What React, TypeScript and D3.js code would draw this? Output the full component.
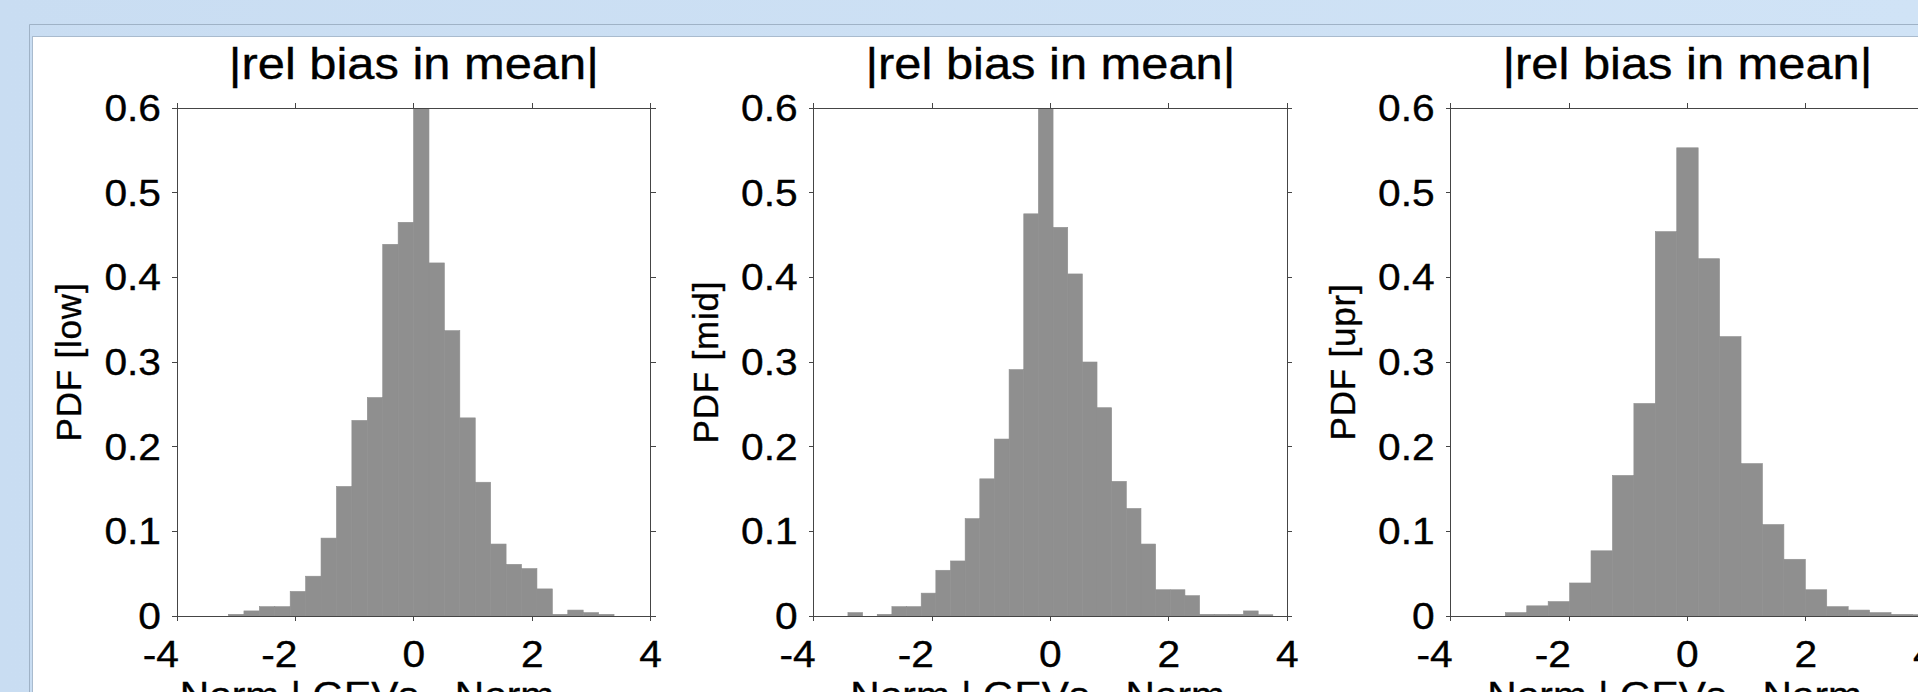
import React from 'react';
import * as d3 from 'd3';

// ---------- data ----------
const panelKeys = ['low', 'mid', 'upr'];
const titleText = '|rel bias in mean|';
const xLabelText = 'Norm | GEVs - Norm';
const xTicks = [-4, -2, 0, 2, 4];
const yTicks = [0, 0.1, 0.2, 0.3, 0.4, 0.5, 0.6];

const lowBinStart = -3.13;
const lowBinWidth = 0.2605;
const lowPdf = [0.002, 0.006, 0.011, 0.011, 0.029, 0.047, 0.092, 0.153, 0.231, 0.258, 0.439, 0.465, 0.6, 0.417, 0.337, 0.234, 0.158, 0.085, 0.061, 0.056, 0.032, 0.002, 0.007, 0.004, 0.002];

const midBinStart = -3.42;
const midBinWidth = 0.2475;
const midPdf = [0.004, 0, 0.002, 0.011, 0.011, 0.027, 0.054, 0.065, 0.115, 0.162, 0.209, 0.291, 0.475, 0.6, 0.459, 0.404, 0.3, 0.246, 0.159, 0.127, 0.085, 0.031, 0.031, 0.024, 0.002, 0.002, 0.002, 0.006, 0.0015];

const uprBinStart = -3.076;
const uprBinWidth = 0.362;
const uprPdf = [0.004, 0.012, 0.017, 0.039, 0.077, 0.166, 0.251, 0.454, 0.553, 0.422, 0.33, 0.18, 0.108, 0.067, 0.031, 0.011, 0.007, 0.004, 0.002, 0.0015];

const panels = [
  { key: panelKeys[0], start: lowBinStart, width: lowBinWidth, values: lowPdf },
  { key: panelKeys[1], start: midBinStart, width: midBinWidth, values: midPdf },
  { key: panelKeys[2], start: uprBinStart, width: uprBinWidth, values: uprPdf },
];

// ---------- layout ----------
const W = 1918;
const H = 692;
const plotTop = 108;
const plotBottom = 616;
const plotWidth = 473.6;
const panelLefts = [177, 813.6, 1450.6];
const xLabelOffsets = [190, 224, 224];
const tickLen = 5;
const axisColor = '#454545';
const barColor = '#8f8f8f';
const fontFamily = 'Arial, "Liberation Sans", Helvetica, sans-serif';
const sx = 1.1;
const textStroke = { stroke: '#000', strokeWidth: 0.35 };

const yScale = d3.scaleLinear().domain([0, 0.6]).range([plotBottom, plotTop]);
const yFmt = (t: number) => (t === 0 ? '0' : d3.format('.1f')(t));

function Panel({ idx }: { idx: number }) {
  const p = panels[idx];
  const left = panelLefts[idx];
  const right = left + plotWidth;
  const x = d3.scaleLinear().domain([-4, 4]).range([left, right]);
  const clipId = `clip-${p.key}`;
  const cx = (left + right) / 2;
  const cy = (plotTop + plotBottom) / 2;
  return (
    <g>
      <defs>
        <clipPath id={clipId}>
          <rect x={left} y={plotTop} width={plotWidth} height={plotBottom - plotTop} />
        </clipPath>
      </defs>
      <g clipPath={`url(#${clipId})`}>
        {p.values.map((v, i) => {
          const x0 = x(p.start + i * p.width);
          const x1 = x(p.start + (i + 1) * p.width);
          const y0 = yScale(Math.min(v, 0.6));
          return v > 0 ? (
            <rect key={i} x={x0} y={y0} width={x1 - x0} height={plotBottom - y0} fill={barColor} stroke={barColor} strokeWidth={0.6} />
          ) : null;
        })}
      </g>
      <rect x={left} y={plotTop} width={plotWidth} height={plotBottom - plotTop} fill="none" stroke={axisColor} strokeWidth={1} shapeRendering="crispEdges" />
      {yTicks.map((t) => (
        <g key={`y${t}`} shapeRendering="crispEdges" stroke={axisColor}>
          <line x1={left - tickLen} x2={left} y1={yScale(t)} y2={yScale(t)} />
          <line x1={right} x2={right + tickLen} y1={yScale(t)} y2={yScale(t)} />
        </g>
      ))}
      {xTicks.map((t) => (
        <g key={`x${t}`} shapeRendering="crispEdges" stroke={axisColor}>
          <line x1={x(t)} x2={x(t)} y1={plotBottom} y2={plotBottom + tickLen} />
          <line x1={x(t)} x2={x(t)} y1={plotTop - tickLen} y2={plotTop} />
        </g>
      ))}
      {yTicks.map((t) => (
        <text key={`yl${t}`} transform={`translate(${left - 16},${yScale(t)}) scale(${sx},1)`} textAnchor="end" dy="0.35em" fontSize={37} fontFamily={fontFamily} fill="#000" {...textStroke}>
          {yFmt(t)}
        </text>
      ))}
      {xTicks.map((t) => (
        <text key={`xl${t}`} transform={`translate(${t < 0 ? x(t) + 2 : x(t)},${667}) scale(${sx},1)`} textAnchor={t < 0 ? 'end' : 'middle'} fontSize={37} fontFamily={fontFamily} fill="#000" {...textStroke}>
          {String(t)}
        </text>
      ))}
      <text transform={`translate(${cx},${78.7}) scale(${1.11},1)`} textAnchor="middle" fontSize={44} fontFamily={fontFamily} fill="#000" {...textStroke}>
        {titleText}
      </text>
      <text transform={`translate(${left - 96},${cy}) rotate(-90)`} textAnchor="middle" fontSize={35} fontFamily={fontFamily} fill="#000" letterSpacing={0.8} {...textStroke}>
        {`PDF [${p.key}]`}
      </text>
      <text transform={`translate(${left + xLabelOffsets[idx]},${708}) scale(${sx},1)`} textAnchor="middle" fontSize={37} fontFamily={fontFamily} fill="#000" {...textStroke}>
        {xLabelText}
      </text>
    </g>
  );
}

export default function App() {
  return (
    <svg width={W} height={H} viewBox={`0 0 ${W} ${H}`} style={{ position: 'absolute', left: 0, top: 0, display: 'block' }}>
      <defs>
        <linearGradient id="bgGrad" x1="0" y1="0" x2="1" y2="0">
          <stop offset="0" stopColor="#c9ddf2" />
          <stop offset="1" stopColor="#d0e3f6" />
        </linearGradient>
      </defs>
      <rect x={0} y={0} width={W} height={H} fill="url(#bgGrad)" />
      <line x1={29.5} y1={24.5} x2={W} y2={24.5} stroke="#9fb2c6" strokeWidth={1} />
      <line x1={29.5} y1={24.5} x2={29.5} y2={H} stroke="#9fb2c6" strokeWidth={1} />
      <rect x={32.5} y={36.5} width={W} height={H} fill="#ffffff" stroke="#a9bbce" strokeWidth={1} />
      {panels.map((_, i) => (
        <Panel key={i} idx={i} />
      ))}
    </svg>
  );
}
